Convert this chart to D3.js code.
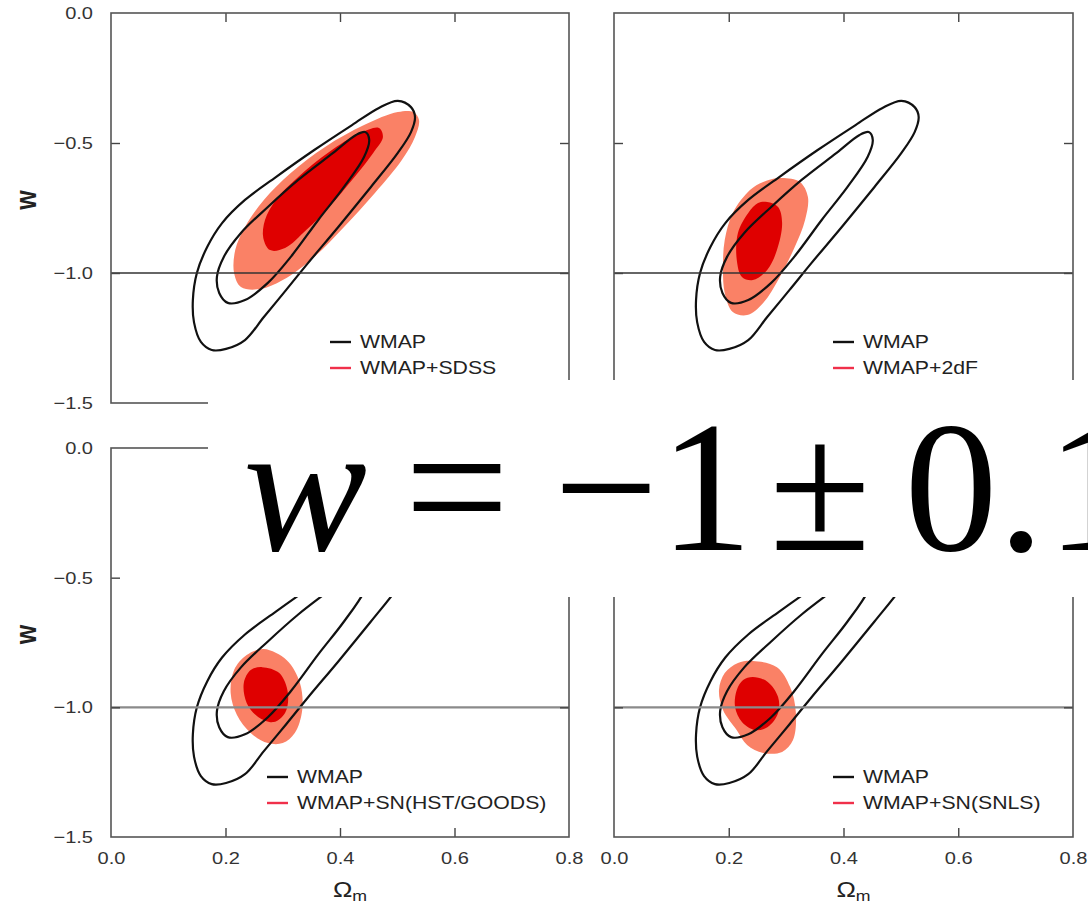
<!DOCTYPE html>
<html><head><meta charset="utf-8">
<script src="https://cdn.jsdelivr.net/npm/d3@7"></script>
<style>
html,body{margin:0;padding:0;background:#fff;}
svg{display:block;}
</style></head><body>
<svg id="chart" width="1088" height="907"></svg>
<script>
// Axis ticks
const omegaTicks = [0.0, 0.2, 0.4, 0.6, 0.8];
const wTicks = [0.0, -0.5, -1.0, -1.5];

// WMAP-only contours (68% inner, 95% outer) as [Omega_m, w]
const wmapOuter = [[0.501,-0.338],[0.524,-0.362],[0.531,-0.400],[0.524,-0.458],[0.501,-0.538],[0.454,-0.669],[0.397,-0.823],[0.344,-0.962],[0.306,-1.065],[0.267,-1.169],[0.234,-1.258],[0.201,-1.292],[0.176,-1.296],[0.157,-1.265],[0.145,-1.190],[0.143,-1.104],[0.150,-1.000],[0.168,-0.900],[0.194,-0.808],[0.234,-0.719],[0.288,-0.631],[0.355,-0.527],[0.421,-0.431],[0.468,-0.365]];
const wmapInner = [[0.444,-0.458],[0.451,-0.488],[0.442,-0.554],[0.407,-0.669],[0.362,-0.796],[0.314,-0.938],[0.274,-1.038],[0.234,-1.104],[0.204,-1.115],[0.189,-1.077],[0.185,-1.015],[0.197,-0.938],[0.227,-0.846],[0.274,-0.746],[0.327,-0.642],[0.388,-0.538],[0.428,-0.469]];

// Combined constraints: 95% and 68% regions
const sdss95 = [[0.538,-0.412],[0.531,-0.477],[0.508,-0.565],[0.461,-0.692],[0.407,-0.823],[0.355,-0.938],[0.300,-1.027],[0.260,-1.062],[0.227,-1.054],[0.215,-1.000],[0.217,-0.912],[0.234,-0.823],[0.267,-0.719],[0.314,-0.615],[0.374,-0.515],[0.442,-0.431],[0.501,-0.381],[0.528,-0.381]];
const sdss68 = [[0.468,-0.442],[0.475,-0.477],[0.458,-0.538],[0.421,-0.642],[0.381,-0.746],[0.341,-0.835],[0.304,-0.904],[0.278,-0.912],[0.266,-0.865],[0.269,-0.796],[0.288,-0.719],[0.327,-0.631],[0.381,-0.535],[0.435,-0.462]];
const twodf95 = [[0.289,-0.635],[0.324,-0.650],[0.338,-0.708],[0.333,-0.796],[0.315,-0.900],[0.289,-1.015],[0.260,-1.115],[0.232,-1.162],[0.207,-1.150],[0.193,-1.077],[0.190,-0.977],[0.193,-0.873],[0.207,-0.769],[0.237,-0.681],[0.260,-0.650]];
const twodf68 = [[0.267,-0.727],[0.286,-0.746],[0.293,-0.808],[0.284,-0.912],[0.267,-0.988],[0.242,-1.027],[0.223,-1.015],[0.214,-0.950],[0.216,-0.846],[0.234,-0.769],[0.251,-0.731]];
const hst95 = [[0.267,-0.775],[0.307,-0.818],[0.330,-0.906],[0.334,-1.010],[0.321,-1.099],[0.300,-1.138],[0.274,-1.138],[0.244,-1.099],[0.220,-1.030],[0.209,-0.945],[0.215,-0.856],[0.237,-0.798]];
const hst68 = [[0.264,-0.845],[0.294,-0.868],[0.309,-0.945],[0.304,-1.022],[0.284,-1.057],[0.257,-1.037],[0.237,-0.983],[0.232,-0.906],[0.244,-0.856]];
const snls95 = [[0.242,-0.821],[0.284,-0.845],[0.307,-0.922],[0.317,-1.022],[0.312,-1.126],[0.293,-1.172],[0.260,-1.176],[0.232,-1.145],[0.214,-1.088],[0.190,-1.010],[0.183,-0.933],[0.193,-0.868],[0.216,-0.829]];
const snls68 = [[0.242,-0.883],[0.268,-0.902],[0.286,-0.960],[0.286,-1.022],[0.268,-1.076],[0.246,-1.088],[0.223,-1.057],[0.211,-0.999],[0.214,-0.933],[0.225,-0.895]];

const baseLabel = "WMAP";
const comboLabels = ["WMAP+SDSS", "WMAP+2dF", "WMAP+SN(HST/GOODS)", "WMAP+SN(SNLS)"];
const combo95 = [sdss95, twodf95, hst95, snls95];
const combo68 = [sdss68, twodf68, hst68, snls68];
const referenceW = -1.0;
const headline = ["w", "=", "\u2212", "1", "\u00b1", "0", ".", "1"];

// ---- layout ----
const colX = [[111, 569], [614, 1073]];
const rowY = [[13, 403], [448, 837]];
const stretch = 1.18;            // sans text is drawn slightly wide
const sans = "'Liberation Sans', Arial, Helvetica, sans-serif";
const col95 = "#fa8166", col68 = "#df0000";

const svg = d3.select("#chart");
svg.append("rect").attr("width", 1088).attr("height", 907).attr("fill", "#fff");

const shape = d3.line().curve(d3.curveCatmullRomClosed.alpha(0.5));

comboLabels.forEach((label, i) => {
  const c = i % 2, r = Math.floor(i / 2);
  const x = d3.scaleLinear().domain([0, 0.8]).range(colX[c]);
  const y = d3.scaleLinear().domain([0, -1.5]).range(rowY[r]);
  const x0 = colX[c][0], x1 = colX[c][1], y0 = rowY[r][0], y1 = rowY[r][1];
  const g = svg.append("g");

  const clipId = "clip" + i;
  g.append("clipPath").attr("id", clipId).append("rect")
    .attr("x", x0).attr("y", y0).attr("width", x1 - x0).attr("height", y1 - y0);
  const plot = g.append("g").attr("clip-path", `url(#${clipId})`);
  const toPx = pts => pts.map(d => [x(d[0]), y(d[1])]);

  plot.append("path").attr("d", shape(toPx(combo95[i]))).attr("fill", col95);
  plot.append("path").attr("d", shape(toPx(combo68[i]))).attr("fill", col68);
  [wmapOuter, wmapInner].forEach(ct => {
    plot.append("path").attr("d", shape(toPx(ct)))
      .attr("fill", "none").attr("stroke", "#111").attr("stroke-width", 2.2);
  });
  plot.append("line").attr("x1", x0).attr("x2", x1)
    .attr("y1", y(referenceW)).attr("y2", y(referenceW))
    .attr("stroke", r === 0 ? "#333" : "#8a8a8a").attr("stroke-width", r === 0 ? 1.3 : 2.4);

  // ticks on all four sides, pointing inward
  const fmt = d3.format(".1f");
  const axB = g.append("g").attr("transform", `translate(0,${y1})`)
    .call(d3.axisBottom(x).tickValues(omegaTicks).tickSizeInner(-9).tickSizeOuter(0)
      .tickPadding(15).tickFormat(r === 1 ? fmt : () => ""));
  const axT = g.append("g").attr("transform", `translate(0,${y0})`)
    .call(d3.axisTop(x).tickValues(omegaTicks).tickSizeInner(-9).tickSizeOuter(0).tickFormat(() => ""));
  const axL = g.append("g").attr("transform", `translate(${x0},0)`)
    .call(d3.axisLeft(y).tickValues(wTicks).tickSizeInner(-9).tickSizeOuter(0)
      .tickPadding(18).tickFormat(c === 0 ? fmt : () => ""));
  const axR = g.append("g").attr("transform", `translate(${x1},0)`)
    .call(d3.axisRight(y).tickValues(wTicks).tickSizeInner(-9).tickSizeOuter(0).tickFormat(() => ""));
  [axB, axT, axL, axR].forEach(a => {
    a.select(".domain").remove();
    a.selectAll("line").attr("stroke", "#444").attr("stroke-width", 1.4);
    a.selectAll(".tick").filter(d => d === 0 || d === 0.8 || d === -1.5).select("line").remove();
    a.selectAll("text").attr("font-family", sans).attr("font-size", 17).attr("fill", "#333");
  });
  axB.selectAll("text").attr("transform", `scale(${stretch},1)`);
  axL.selectAll("text").attr("x", -18 / stretch).attr("transform", `scale(${stretch},1)`);

  g.append("rect").attr("x", x0).attr("y", y0).attr("width", x1 - x0).attr("height", y1 - y0)
    .attr("fill", "none").attr("stroke", "#555").attr("stroke-width", 1.6);

  // axis titles
  if (c === 0) {
    g.append("text")
      .attr("transform", `translate(26,${(y0 + y1) / 2 - 8}) scale(${stretch},1) rotate(-90)`)
      .attr("text-anchor", "middle").attr("dy", "0.35em")
      .attr("font-family", sans).attr("font-weight", "bold").attr("font-size", 25).attr("fill", "#222")
      .text("w");
  }
  if (r === 1) {
    const t = g.append("text")
      .attr("transform", `translate(${(x0 + x1) / 2 + 10},897) scale(${stretch},1)`)
      .attr("text-anchor", "middle").attr("font-family", sans).attr("font-size", 22).attr("fill", "#222");
    t.append("tspan").text("\u03a9");
    t.append("tspan").attr("font-size", 15).attr("dy", 4).text("m");
  }

  // legend
  const lx = x0 + (i === 2 ? 156 : 219);
  const ly = y0 + 329;
  [[baseLabel, "#111"], [label, "#f0304a"]].forEach(([txt, col], k) => {
    const yy = ly + k * 26;
    g.append("line").attr("x1", lx).attr("x2", lx + 21).attr("y1", yy).attr("y2", yy)
      .attr("stroke", col).attr("stroke-width", 2.4);
    g.append("text").attr("transform", `translate(${lx + 30},${yy}) scale(${stretch},1)`)
      .attr("dy", "0.36em").attr("font-family", sans).attr("font-size", 18).attr("fill", "#222")
      .text(txt);
  });
});

// headline banner across the middle
svg.append("rect").attr("x", 208).attr("y", 380).attr("width", 880).attr("height", 217).attr("fill", "#fff");
const glyphX = [305, 457, 606, 706, 820, 951, 1021, 1093];
const banner = svg.append("g").attr("font-family", "'Liberation Serif', 'Times New Roman', serif")
  .attr("font-size", 186).attr("fill", "#000").attr("text-anchor", "middle");
headline.forEach((ch, k) => {
  banner.append("text").attr("x", glyphX[k]).attr("y", 550)
    .attr("font-style", k === 0 ? "italic" : "normal").text(ch);
});
</script>
</body></html>
